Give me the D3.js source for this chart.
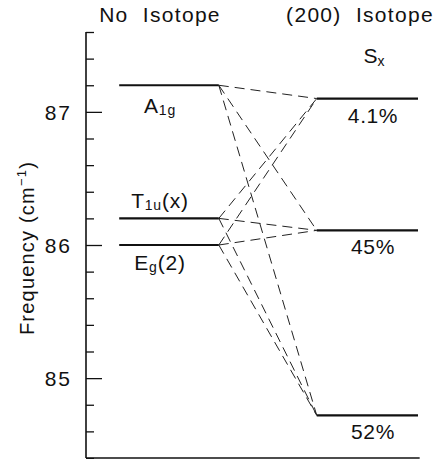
<!DOCTYPE html>
<html><head><meta charset="utf-8">
<script src="https://cdn.jsdelivr.net/npm/d3@7"></script>
<style>
html,body{margin:0;padding:0;background:#fff;}
text{font-family:"Liberation Sans",Arial,sans-serif;fill:#111;}
</style></head>
<body>
<script>
// ---- data ----
const columns = ["No  Isotope", "(200)  Isotope"];
const leftLevels = [87.2, 86.2, 86.0];
const leftLabels = [["A", "1g", ""], ["T", "1u", "(x)"], ["E", "g", "(2)"]];
const rightLevels = [87.10, 86.11, 84.72];
const rightLabels = ["4.1%", "45%", "52%"];
const majorTicks = [85, 86, 87];
const yLabel = "Frequency (cm";

const W = 443, H = 459;
const svg = d3.select("body").append("svg").attr("width", W).attr("height", H);

const y = d3.scaleLinear().domain([84.4, 87.6]).range([458, 32]);
const x = d3.scaleLinear().domain([0, 10]).range([86, 418]);

// axis
const minorTicks = d3.range(84.4, 87.61, 0.2).map(v => +v.toFixed(1)).filter(v => !majorTicks.includes(v));
const axis = d3.axisRight(y).tickValues(minorTicks).tickSize(8).tickFormat("");
const gA = svg.append("g").attr("transform", `translate(${x(0)},0)`).call(axis);
gA.select(".domain").remove();
gA.selectAll(".tick line").attr("stroke", "#111").attr("stroke-width", 1.3);
const axM = d3.axisRight(y).tickValues(majorTicks).tickSize(16).tickFormat("");
const gM = svg.append("g").attr("transform", `translate(${x(0)},0)`).call(axM);
gM.select(".domain").remove();
gM.selectAll(".tick line").attr("stroke", "#111").attr("stroke-width", 1.3);
svg.append("line").attr("x1", x(0)).attr("x2", x(0)).attr("y1", y(87.6)).attr("y2", y(84.4))
  .attr("stroke", "#111").attr("stroke-width", 1.6);
svg.append("line").attr("x1", x(0)).attr("x2", x(10.05)).attr("y1", y(84.4)).attr("y2", y(84.4))
  .attr("stroke", "#111").attr("stroke-width", 1.6);

// tick labels
svg.selectAll("text.tl").data(majorTicks).join("text").attr("class", "tl")
  .attr("x", 72).attr("y", d => y(d) + 8).attr("text-anchor", "end")
  .attr("font-size", 21).attr("letter-spacing", 2).text(d => d);

// y label
const yl = svg.append("text").attr("transform", `translate(34,${y(86) + 3}) rotate(-90)`)
  .attr("text-anchor", "middle").attr("font-size", 20).attr("letter-spacing", 1.2);
yl.append("tspan").text(yLabel);
yl.append("tspan").attr("font-size", 13).attr("dy", -8).text("−1");
yl.append("tspan").attr("dy", 8).text(")");

// headers
svg.append("text").attr("x", 160).attr("y", 22).attr("text-anchor", "middle")
  .attr("font-size", 21).attr("letter-spacing", 1.3).style("white-space", "pre").text(columns[0]);
svg.append("text").attr("x", 360).attr("y", 22).attr("text-anchor", "middle")
  .attr("font-size", 21).attr("letter-spacing", 1.3).style("white-space", "pre").text(columns[1]);
const sx = svg.append("text").attr("x", 374).attr("y", 63).attr("text-anchor", "middle").attr("font-size", 21);
sx.append("tspan").text("S");
sx.append("tspan").attr("font-size", 14).attr("dy", 3).text("x");

// dashed connectors
const pairs = [];
leftLevels.forEach(a => rightLevels.forEach(b => pairs.push([a, b])));
svg.selectAll("line.conn").data(pairs).join("line").attr("class", "conn")
  .attr("x1", x(4)).attr("y1", d => y(d[0])).attr("x2", x(6.95)).attr("y2", d => y(d[1]))
  .attr("stroke", "#222").attr("stroke-width", 1).attr("stroke-dasharray", "10,6");

// levels
svg.selectAll("line.ll").data(leftLevels).join("line").attr("class", "ll")
  .attr("x1", x(1)).attr("x2", x(4)).attr("y1", d => y(d)).attr("y2", d => y(d))
  .attr("stroke", "#111").attr("stroke-width", 2.2);
svg.selectAll("line.rl").data(rightLevels).join("line").attr("class", "rl")
  .attr("x1", x(6.95)).attr("x2", x(10)).attr("y1", d => y(d)).attr("y2", d => y(d))
  .attr("stroke", "#111").attr("stroke-width", 2.2);

// level labels
const lblOff = [28, -10, 25];
leftLabels.forEach((l, i) => {
  const t = svg.append("text").attr("x", 160).attr("y", y(leftLevels[i]) + lblOff[i])
    .attr("text-anchor", "middle").attr("font-size", 21).attr("letter-spacing", 0.8);
  t.append("tspan").text(l[0]);
  t.append("tspan").attr("font-size", 14).attr("dy", 2).text(l[1]);
  t.append("tspan").attr("dy", -2).text(l[2]);
});
svg.selectAll("text.rl").data(rightLevels).join("text").attr("class", "rl")
  .attr("x", 373).attr("y", d => y(d) + 24).attr("text-anchor", "middle")
  .attr("font-size", 21).attr("letter-spacing", 0.6).text((d, i) => rightLabels[i]);
</script>
</body></html>
